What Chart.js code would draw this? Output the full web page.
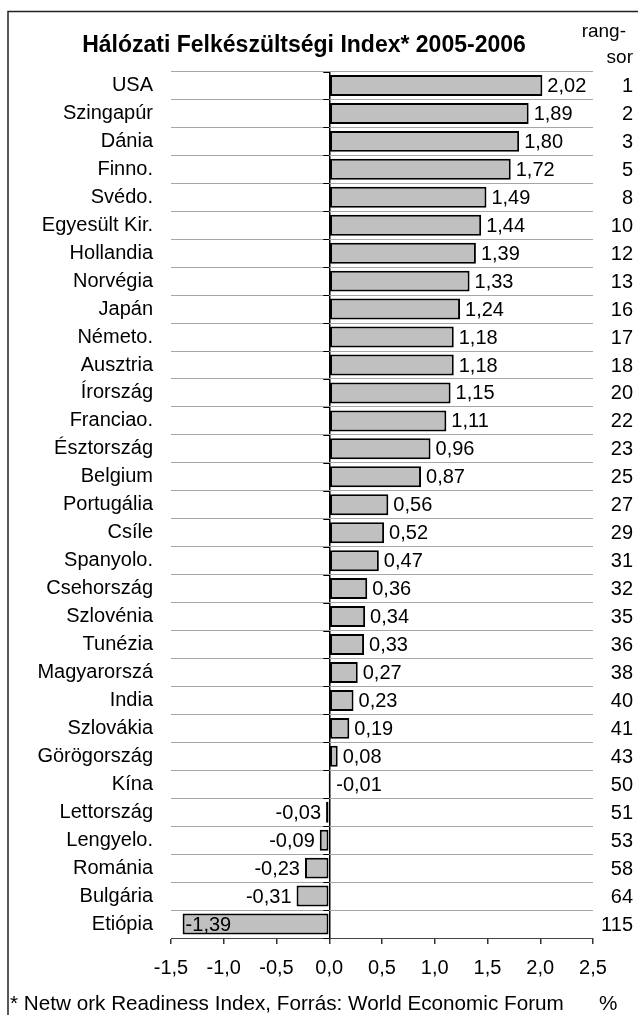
<!DOCTYPE html>
<html>
<head>
<meta charset="utf-8">
<script src="https://cdn.jsdelivr.net/npm/chart.js"></script>
<style>
  html, body { margin: 0; padding: 0; background: #fff; }
  #chart { display: block; }
</style>
</head>
<body>
<canvas id="chart" width="638" height="1015"></canvas>
<script>
const countries = ["USA", "Szingapúr", "Dánia", "Finno.", "Svédo.", "Egyesült Kir.", "Hollandia",
  "Norvégia", "Japán", "Németo.", "Ausztria", "Írország", "Franciao.", "Észtország", "Belgium",
  "Portugália", "Csíle", "Spanyolo.", "Csehország", "Szlovénia", "Tunézia", "Magyarorszá", "India",
  "Szlovákia", "Görögország", "Kína", "Lettország", "Lengyelo.", "Románia", "Bulgária", "Etiópia"];
const indexValues = [2.02, 1.89, 1.80, 1.72, 1.49, 1.44, 1.39, 1.33, 1.24, 1.18, 1.18, 1.15, 1.11,
  0.96, 0.87, 0.56, 0.52, 0.47, 0.36, 0.34, 0.33, 0.27, 0.23, 0.19, 0.08, -0.01, -0.03, -0.09,
  -0.23, -0.31, -1.39];
const ranks = [1, 2, 3, 5, 8, 10, 12, 13, 16, 17, 18, 20, 22, 23, 25, 27, 29, 31, 32, 35, 36, 38,
  40, 41, 43, 50, 51, 53, 58, 64, 115];
const titleText = "Hálózati Felkészültségi Index* 2005-2006";
const footnote = "* Netw ork Readiness Index, Forrás: World Economic Forum";

const FONT = "'Liberation Sans', Arial, sans-serif";
const comma = (v, d) => v.toFixed(d).replace(".", ",");

// frame, title, value labels and the rank column
const extras = {
  id: "extras",
  beforeDraw(chart) {
    const ctx = chart.ctx;
    ctx.save();
    ctx.fillStyle = "#fff";
    ctx.fillRect(0, 0, chart.width, chart.height);
    ctx.strokeStyle = "#222";
    ctx.lineWidth = 1.5;
    ctx.beginPath();
    ctx.moveTo(chart.width, 11.5);
    ctx.lineTo(8, 11.5);
    ctx.lineTo(8, chart.height);
    ctx.stroke();
    ctx.restore();
  },
  afterDatasetsDraw(chart) {
    const ctx = chart.ctx;
    const area = chart.chartArea;
    const xs = chart.scales.x;
    const zero = xs.getPixelForValue(0);
    ctx.save();

    // small category ticks left of the zero line
    ctx.strokeStyle = "#000";
    ctx.lineWidth = 1;
    const band = (area.bottom - area.top) / countries.length;
    for (let i = 0; i <= countries.length; i++) {
      const y = Math.round(area.top + i * band) + 0.5;
      ctx.beginPath();
      ctx.moveTo(zero - 6, y);
      ctx.lineTo(zero, y);
      ctx.stroke();
    }

    ctx.fillStyle = "#000";
    ctx.font = "bold 23px " + FONT;
    ctx.textAlign = "center";
    ctx.textBaseline = "middle";
    ctx.fillText(titleText, 304, 46);

    ctx.font = "19px " + FONT;
    ctx.textAlign = "right";
    ctx.fillText("rang-", 626, 32);
    ctx.fillText("sor", 633, 58);

    ctx.font = "20px " + FONT;
    const meta = chart.getDatasetMeta(0);
    meta.data.forEach((bar, i) => {
      const v = indexValues[i];
      const txt = comma(v, 2);
      if (v >= 0) {
        ctx.textAlign = "left";
        ctx.fillText(txt, bar.x + 5, bar.y + 1);
      } else if (v > -0.02) {
        ctx.textAlign = "left";
        ctx.fillText(txt, zero + 7, bar.y + 1);
      } else if (v < -1) {
        ctx.textAlign = "left";
        ctx.fillText(txt, bar.x + 3, bar.y + 1);
      } else {
        ctx.textAlign = "right";
        ctx.fillText(txt, bar.x - 5, bar.y + 1);
      }
      ctx.textAlign = "right";
      ctx.fillText(String(ranks[i]), 633, bar.y + 1);
    });

    ctx.font = "20.7px " + FONT;
    ctx.textAlign = "left";
    ctx.fillText(footnote, 10, 1004);
    ctx.fillText("%", 599, 1004);
    ctx.restore();
  }
};

new Chart(document.getElementById("chart").getContext("2d"), {
  type: "bar",
  data: {
    labels: countries,
    datasets: [{
      data: indexValues,
      backgroundColor: "#c0c0c0",
      borderColor: "#000",
      borderWidth: 2,
      borderSkipped: false,
      barPercentage: 0.75,
      categoryPercentage: 1
    }]
  },
  options: {
    indexAxis: "y",
    responsive: false,
    animation: false,
    layout: { padding: { left: 0, top: 71.5, right: 45, bottom: 0 } },
    plugins: {
      legend: { display: false },
      tooltip: { enabled: false },
      title: { display: false }
    },
    scales: {
      x: {
        min: -1.5,
        max: 2.5,
        afterFit: s => { s.height = 77; },
        ticks: {
          stepSize: 0.5,
          color: "#000",
          font: { family: FONT, size: 20 },
          padding: 12,
          maxRotation: 0,
          callback: v => comma(v, 1)
        },
        grid: {
          color: c => (c.tick && c.tick.value === 0 ? "#000" : "rgba(0,0,0,0)"),
          lineWidth: 1.5,
          tickColor: "#333",
          tickLength: 6
        },
        border: { display: true, color: "#444", width: 1 }
      },
      y: {
        afterFit: s => { s.width = 171; },
        ticks: {
          color: "#000",
          font: { family: FONT, size: 20 },
          padding: 18
        },
        grid: {
          color: "#a6a6a6",
          lineWidth: 1,
          drawTicks: false,
          offset: true
        },
        border: { display: false }
      }
    }
  },
  plugins: [extras]
});
</script>
</body>
</html>
